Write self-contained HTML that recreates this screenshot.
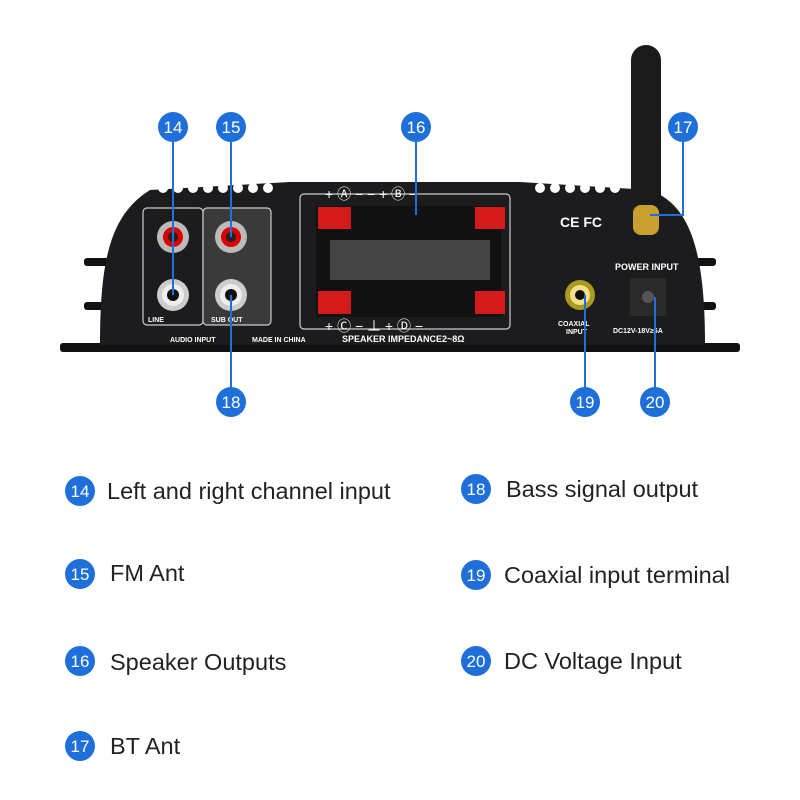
<!DOCTYPE html><html><head><style>body{margin:0;background:#fff}svg{display:block}</style></head><body>
<svg width="800" height="800" viewBox="0 0 800 800" xmlns="http://www.w3.org/2000/svg" font-family="Liberation Sans, sans-serif">
<g fill="#111"><rect x="84" y="258" width="40" height="8" rx="3"/><rect x="84" y="302" width="40" height="8" rx="3"/><rect x="676" y="258" width="40" height="8" rx="3"/><rect x="676" y="302" width="40" height="8" rx="3"/>
<rect x="60" y="343" width="680" height="9" rx="3"/></g>
<path d="M100,345 C100,260 110,215 150,190 L290,182 L520,182 L650,190 C690,205 705,250 705,345 Z" fill="#1c1c1e"/>
<g fill="#fff"><circle cx="163" cy="188" r="5"/><circle cx="178" cy="188" r="5"/><circle cx="193" cy="188" r="5"/><circle cx="208" cy="188" r="5"/><circle cx="223" cy="188" r="5"/><circle cx="238" cy="188" r="5"/><circle cx="253" cy="188" r="5"/><circle cx="268" cy="188" r="5"/>
<circle cx="540" cy="188" r="5"/><circle cx="555" cy="188" r="5"/><circle cx="570" cy="188" r="5"/><circle cx="585" cy="188" r="5"/><circle cx="600" cy="188" r="5"/><circle cx="615" cy="188" r="5"/><circle cx="670" cy="188" r="5"/></g>
<rect x="143" y="208" width="60" height="117" fill="none" stroke="#ccc" stroke-width="1.2" rx="4"/>
<rect x="203" y="208" width="68" height="117" fill="#3a3a3a" stroke="#ccc" stroke-width="1.2" rx="4"/>
<g><circle cx="173" cy="237" r="16" fill="#bbb"/><circle cx="173" cy="237" r="10" fill="#d00"/><circle cx="173" cy="237" r="5" fill="#222"/>
<circle cx="231" cy="237" r="16" fill="#bbb"/><circle cx="231" cy="237" r="10" fill="#d00"/><circle cx="231" cy="237" r="5" fill="#222"/>
<circle cx="173" cy="295" r="16" fill="#ccc"/><circle cx="173" cy="295" r="11" fill="#eee"/><circle cx="173" cy="295" r="6" fill="#111"/>
<circle cx="231" cy="295" r="16" fill="#ccc"/><circle cx="231" cy="295" r="11" fill="#eee"/><circle cx="231" cy="295" r="6" fill="#111"/></g>
<g fill="#fff" font-size="7" font-weight="bold"><text x="148" y="322">LINE</text><text x="211" y="322">SUB OUT</text><text x="170" y="342">AUDIO INPUT</text><text x="252" y="342">MADE IN CHINA</text><text x="342" y="342" font-size="9">SPEAKER IMPEDANCE2~8Ω</text>
<text x="558" y="326">COAXIAL</text><text x="566" y="334">INPUT</text><text x="615" y="270" font-size="9">POWER INPUT</text><text x="613" y="333">DC12V-18V≥5A</text><text x="560" y="227" font-size="14">CE FC</text></g>
<rect x="300" y="194" width="210" height="135" fill="none" stroke="#ccc" stroke-width="1.2" rx="4"/>
<rect x="316" y="206" width="185" height="111" fill="#111"/>
<g fill="#d41a1a"><rect x="318" y="207" width="33" height="22"/><rect x="475" y="207" width="30" height="22"/><rect x="318" y="291" width="33" height="23"/><rect x="475" y="291" width="30" height="23"/></g>
<g fill="#444"><rect x="330" y="240" width="160" height="40"/></g>
<g fill="#fff" font-size="14"><text x="325" y="199">+ Ⓐ − − + Ⓑ −</text><text x="325" y="331">+ Ⓒ − ⊥ + Ⓓ −</text></g>
<circle cx="580" cy="295" r="15" fill="#aa9a20"/><circle cx="580" cy="295" r="10" fill="#f5e08a"/><circle cx="580" cy="295" r="5" fill="#111"/>
<rect x="630" y="278" width="36" height="38" fill="#2a2a2a"/><circle cx="648" cy="297" r="6" fill="#555"/>
<rect x="631" y="45" width="30" height="165" rx="15" fill="#1a1a1a"/><rect x="633" y="205" width="26" height="30" rx="8" fill="#c9a030"/>
<g stroke="#1e6fd9" stroke-width="2" fill="none"><line x1="173" y1="142" x2="173" y2="295"/><line x1="231" y1="142" x2="231" y2="237"/><line x1="416" y1="142" x2="416" y2="215"/><polyline points="683,142 683,215 650,215"/><line x1="231" y1="295" x2="231" y2="387"/><line x1="585" y1="295" x2="585" y2="387"/><line x1="655" y1="297" x2="655" y2="387"/></g>
<g fill="#1e6fd9"><circle cx="173" cy="127" r="15"/><circle cx="231" cy="127" r="15"/><circle cx="416" cy="127" r="15"/><circle cx="683" cy="127" r="15"/><circle cx="231" cy="402" r="15"/><circle cx="585" cy="402" r="15"/><circle cx="655" cy="402" r="15"/>
<circle cx="80" cy="491" r="15"/><circle cx="80" cy="574" r="15"/><circle cx="80" cy="661" r="15"/><circle cx="80" cy="746" r="15"/><circle cx="476" cy="489" r="15"/><circle cx="476" cy="575" r="15"/><circle cx="476" cy="661" r="15"/></g>
<g fill="#fff" font-size="17" text-anchor="middle"><text x="173" y="133">14</text><text x="231" y="133">15</text><text x="416" y="133">16</text><text x="683" y="133">17</text><text x="231" y="408">18</text><text x="585" y="408">19</text><text x="655" y="408">20</text>
<text x="80" y="497">14</text><text x="80" y="580">15</text><text x="80" y="667">16</text><text x="80" y="752">17</text><text x="476" y="495">18</text><text x="476" y="581">19</text><text x="476" y="667">20</text></g>
<g fill="#222" font-size="23.5"><text x="107" y="499">Left and right channel input</text><text x="110" y="581">FM Ant</text><text x="110" y="670">Speaker Outputs</text><text x="110" y="754">BT Ant</text>
<text x="506" y="497">Bass signal output</text><text x="504" y="583">Coaxial input terminal</text><text x="504" y="669">DC Voltage Input</text></g>
</svg></body></html>
